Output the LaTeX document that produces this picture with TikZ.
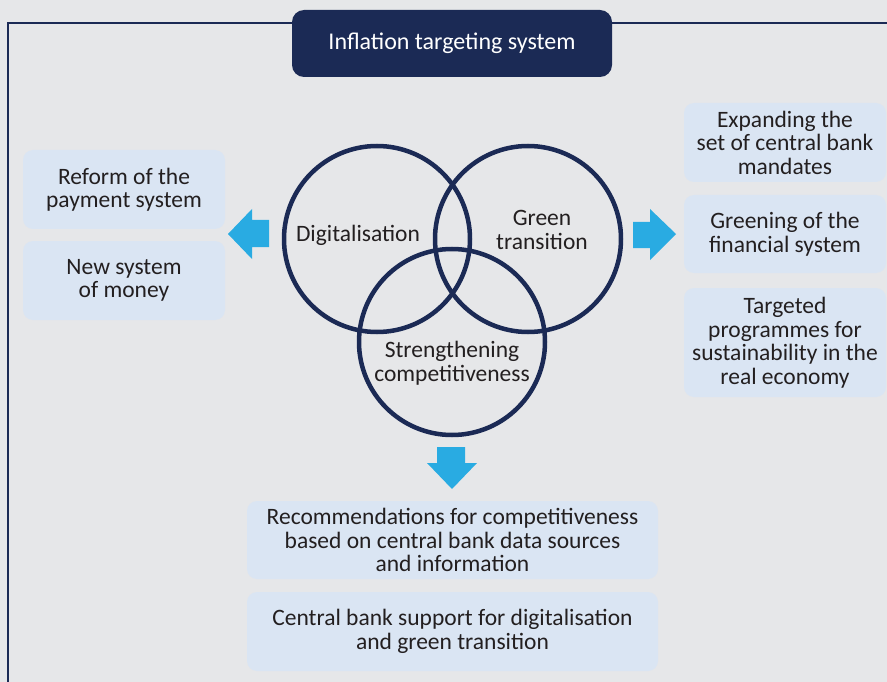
\documentclass[tikz,border=0pt]{standalone}
\usepackage{fontspec}
\setmainfont{Carlito}
\usetikzlibrary{shapes.geometric}
\definecolor{bgcol}{HTML}{E6E7E9}
\definecolor{navy}{HTML}{1B2A55}
\definecolor{boxfill}{HTML}{DAE5F3}
\definecolor{arrowcol}{HTML}{29ABE2}
\definecolor{txt}{HTML}{231F20}
\tikzset{
  infobox/.style={fill=boxfill, rounded corners=10pt, minimum width=202pt,
    align=center, text=txt, inner sep=0pt,
    font=\fontsize{23.5}{23.5}\selectfont},
  ring/.style={circle, draw=navy, line width=4.5pt, minimum size=186pt, inner sep=0pt},
  ringlabel/.style={align=center, text=txt, font=\fontsize{23.5}{24.5}\selectfont},
  fatarrow/.style={fill=arrowcol, draw=none},
  frameline/.style={draw=navy, line width=2pt}
}
\begin{document}
\begin{tikzpicture}[x=1pt,y=-1pt]
  % canvas
  \fill[bgcol] (0,0) rectangle (887,682);
  \useasboundingbox (0,0) rectangle (887,682);

  % outer frame (top and left edges)
  \coordinate (frameTR) at (887,23);
  \coordinate (frameTL) at (8,23);
  \coordinate (frameBL) at (8,682);
  \draw[frameline] (frameTR) -- (frameTL) -- (frameBL);

  % title
  \node[fill=navy, rounded corners=12pt, minimum width=320pt, minimum height=67pt,
        text=white, font=\fontsize{24}{24}\selectfont] (title) at (452,43.5)
        {Inflation targeting system};

  % three overlapping rings
  \node[ring] (digi)  at (377,239) {};
  \node[ring] (green) at (528,239) {};
  \node[ring] (comp)  at (452,342) {};
  \node[ringlabel] (digiL)  at (358,235) {Digitalisation};
  \node[ringlabel] (greenL) at (542,230) {Green\\transition};
  \node[ringlabel] (compL)  at (452,363) {Strengthening\\competitiveness};

  % left column
  \node[infobox, minimum height=79pt] (pay)   at (124,189.5) {Reform of the\\payment system};
  \node[infobox, minimum height=79pt] (money) at (124,280.5) {New system\\of money};

  % right column
  \node[infobox, minimum height=79pt] (mand)  at (785,142.5) {Expanding the\\set of central bank\\mandates};
  \node[infobox, minimum height=78pt] (fin)   at (785,234)   {Greening of the\\financial system};
  \node[infobox, minimum height=109pt] (sust) at (785,342.5) {Targeted\\programmes for\\sustainability in the\\real economy};

  % bottom column
  \node[infobox, minimum width=411pt, minimum height=78pt] (rec) at (452.5,540)
        {Recommendations for competitiveness\\based on central bank data sources\\and information};
  \node[infobox, minimum width=411pt, minimum height=79pt] (sup) at (452.5,631.5)
        {Central bank support for digitalisation\\and green transition};

  % block arrows
  \fill[fatarrow] (269,220) -- (252,220) -- (252,209) -- (228,234)
                  -- (252,259) -- (252,247) -- (269,247) -- cycle;
  \fill[fatarrow] (633,222) -- (650,222) -- (650,209) -- (676,234)
                  -- (650,260) -- (650,248) -- (633,248) -- cycle;
  \fill[fatarrow] (437,447) -- (465,447) -- (465,463) -- (477,463)
                  -- (452,489) -- (427,463) -- (437,463) -- cycle;
\end{tikzpicture}
\end{document}
